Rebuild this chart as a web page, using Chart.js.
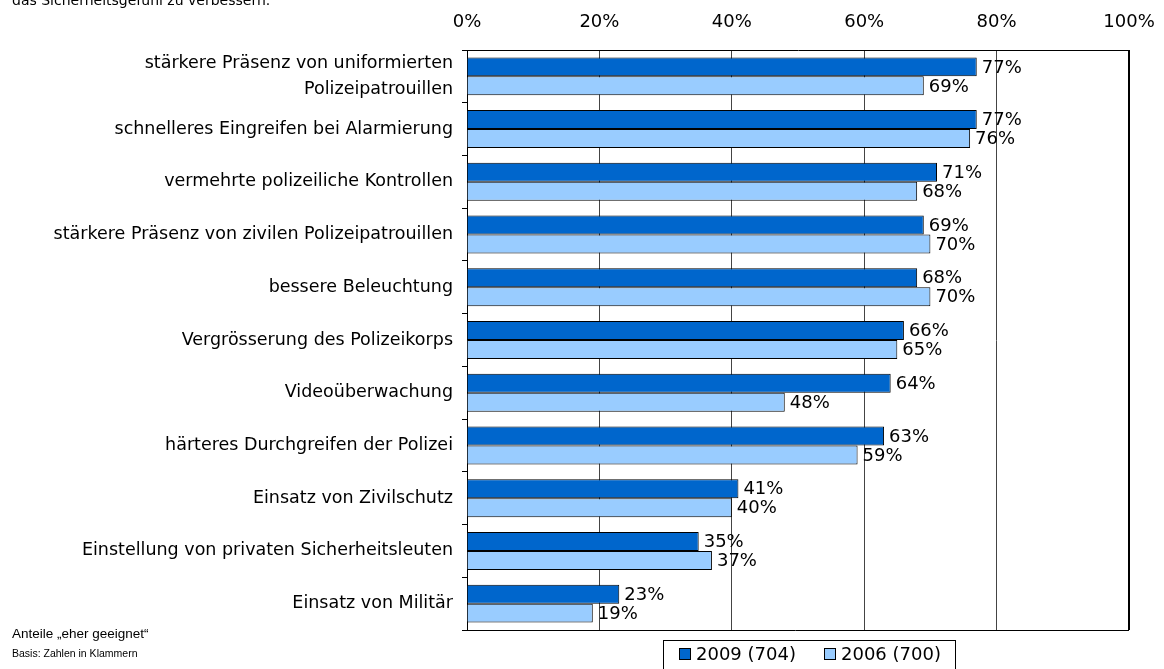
<!DOCTYPE html>
<html>
<head>
<meta charset="utf-8">
<script src="https://cdn.jsdelivr.net/npm/chart.js@4"></script>
<style>
  body { margin: 0; background: #fff; }
</style>
</head>
<body>
<canvas id="massnahmenChart" width="1164" height="669"></canvas>
<script>
const categories = [
    ['stärkere Präsenz von uniformierten', 'Polizeipatrouillen'],
    'schnelleres Eingreifen bei Alarmierung',
    'vermehrte polizeiliche Kontrollen',
    'stärkere Präsenz von zivilen Polizeipatrouillen',
    'bessere Beleuchtung',
    'Vergrösserung des Polizeikorps',
    'Videoüberwachung',
    'härteres Durchgreifen der Polizei',
    'Einsatz von Zivilschutz',
    'Einstellung von privaten Sicherheitsleuten',
    'Einsatz von Militär'
];
const values2009 = [77, 77, 71, 69, 68, 66, 64, 63, 41, 35, 23];
const values2006 = [69, 76, 68, 70, 70, 65, 48, 59, 40, 37, 19];
const seriesNames = ['2009 (704)', '2006 (700)'];

const FONT = 'DejaVu Sans';
const NOTE_FONT = 'Liberation Sans';

// value labels next to each bar
const valueLabels = {
    id: 'valueLabels',
    afterDatasetsDraw(chart) {
        const ctx = chart.ctx;
        ctx.save();
        ctx.font = '18px "' + FONT + '"';
        ctx.fillStyle = '#000';
        ctx.textBaseline = 'middle';
        ctx.textAlign = 'left';
        chart.data.datasets.forEach((ds, i) => {
            chart.getDatasetMeta(i).data.forEach((bar, j) => {
                ctx.fillText(ds.data[j] + '%', bar.x + 5, bar.y + 1);
            });
        });
        ctx.restore();
    }
};

// bottom frame line, notes and boxed legend
const extras = {
    id: 'extras',
    afterDraw(chart) {
        const ctx = chart.ctx;
        const a = chart.chartArea;
        ctx.save();
        ctx.strokeStyle = '#000';
        ctx.lineWidth = 1;
        ctx.beginPath();
        ctx.moveTo(a.left - 5, a.bottom + 0.5);
        ctx.lineTo(a.right, a.bottom + 0.5);
        ctx.stroke();

        ctx.fillStyle = '#000';
        ctx.textAlign = 'left';
        ctx.textBaseline = 'alphabetic';
        ctx.font = '14px "' + FONT + '"';
        ctx.fillText('das Sicherheitsgefühl zu verbessern.', 12, 5);
        ctx.font = '13.5px "' + NOTE_FONT + '"';
        ctx.fillText('Anteile \u201Eeher geeignet\u201C', 12, 638);
        ctx.font = '10.5px "' + NOTE_FONT + '"';
        ctx.fillText('Basis: Zahlen in Klammern', 12, 657);

        // legend box
        ctx.strokeRect(663.5, 640.5, 292, 40);
        const colors = chart.data.datasets.map(d => d.backgroundColor);
        const xs = [679, 824];
        ctx.font = '18px "' + FONT + '"';
        ctx.textBaseline = 'middle';
        seriesNames.forEach((name, i) => {
            ctx.fillStyle = colors[i];
            ctx.fillRect(xs[i], 648, 12, 12);
            ctx.strokeStyle = '#000';
            ctx.strokeRect(xs[i] + 0.5, 648.5, 11, 11);
            ctx.fillStyle = '#000';
            ctx.fillText(name, xs[i] + 17, 655);
        });
        ctx.restore();
    }
};

const ctx = document.getElementById('massnahmenChart').getContext('2d');
new Chart(ctx, {
    type: 'bar',
    data: {
        labels: categories,
        datasets: [
            {
                label: seriesNames[0],
                data: values2009,
                backgroundColor: '#0066CC',
                borderColor: '#000',
                borderWidth: 1,
                categoryPercentage: 0.72,
                barPercentage: 1
            },
            {
                label: seriesNames[1],
                data: values2006,
                backgroundColor: '#99CCFF',
                borderColor: '#000',
                borderWidth: 1,
                categoryPercentage: 0.72,
                barPercentage: 1
            }
        ]
    },
    options: {
        indexAxis: 'y',
        responsive: false,
        animation: false,
        layout: { padding: { left: 0, right: 35, top: 0, bottom: 39 } },
        plugins: {
            legend: { display: false },
            tooltip: { enabled: false }
        },
        scales: {
            x: {
                position: 'top',
                min: 0,
                max: 100,
                afterFit: scale => {
                    scale.height = 50;
                    scale.paddingLeft = 0;
                    scale.paddingRight = 0;
                },
                ticks: {
                    stepSize: 20,
                    padding: 17,
                    color: '#000',
                    font: { family: FONT, size: 18 },
                    callback: v => v + '%'
                },
                grid: {
                    drawTicks: false,
                    color: c => (c.tick && c.tick.value === 100) ? '#000' : '#444',
                    lineWidth: c => (c.tick && c.tick.value === 100) ? 2 : 1
                },
                border: { display: true, color: '#000' }
            },
            y: {
                afterFit: scale => { scale.width = 467; },
                ticks: {
                    autoSkip: false,
                    padding: 9,
                    color: '#000',
                    font: { family: FONT, size: 17.5, lineHeight: 1.5 }
                },
                grid: {
                    drawOnChartArea: false,
                    tickLength: 5,
                    color: '#000'
                },
                border: { display: true, color: '#000' }
            }
        }
    },
    plugins: [valueLabels, extras]
});
</script>
</body>
</html>
